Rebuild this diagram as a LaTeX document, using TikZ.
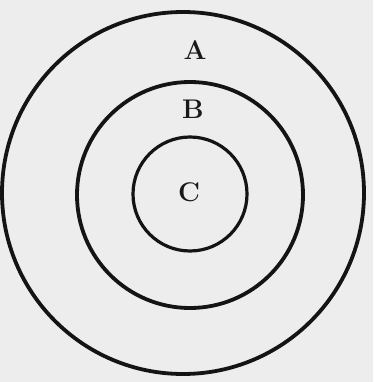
\documentclass[tikz,border=0pt]{standalone}
\usepackage{fontspec}
\tikzset{
  ring/.style={draw=black!92, line width=3.8pt},
  lbl/.style={font=\bfseries\fontsize{27}{27}\selectfont, text=black!90, inner sep=0pt}
}
\begin{document}
\begin{tikzpicture}[x=1pt,y=-1pt]
  \fill[black!7] (0,0) rectangle (373,382);
  \useasboundingbox (0,0) rectangle (373,382);
  \node[ring, circle, minimum size=362pt, inner sep=0pt] (outer) at (183,193) {};
  \node[ring, circle, minimum size=226pt, inner sep=0pt] (middle) at (190,195) {};
  \node[ring, circle, minimum size=114pt, inner sep=0pt, line width=3.2pt] (inner) at (190,194) {};
  \node[lbl] (A) at (195,50) {A};
  \node[lbl] (B) at (193,109) {B};
  \node[lbl] (C) at (189,192) {C};
\end{tikzpicture}
\end{document}
